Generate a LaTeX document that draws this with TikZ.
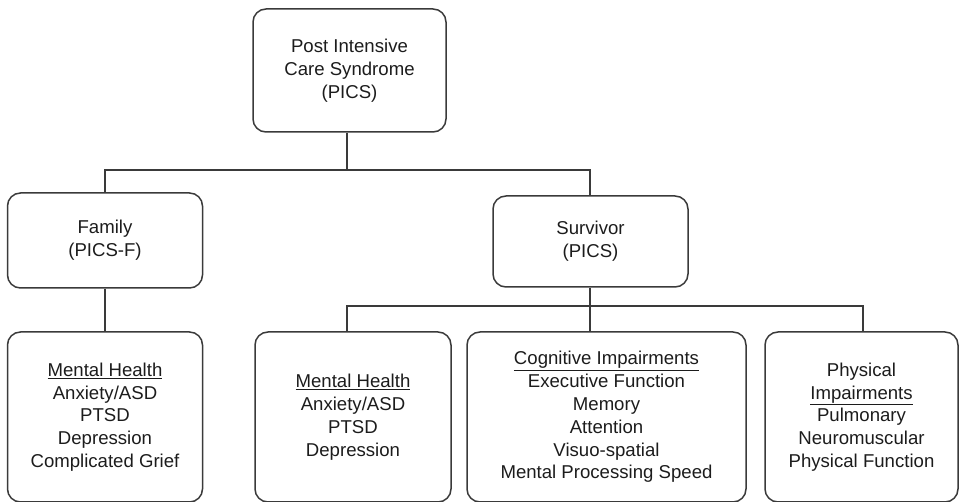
\documentclass[tikz,border=0pt]{standalone}
\usepackage{fontspec}
\setmainfont{Liberation Sans}
\definecolor{linecol}{HTML}{3A3A3A}
\definecolor{textcol}{HTML}{1C1C1C}
\begin{document}
\begin{tikzpicture}[x=1pt,y=-1pt,
  box/.style={draw=linecol, line width=1.5pt, rounded corners=13pt, align=center,
    text=textcol, font=\fontsize{18.6}{22.8}\selectfont, inner sep=0pt},
  conn/.style={draw=linecol, line width=1.5pt}]
\useasboundingbox (0,0) rectangle (959,502);
\node[box, minimum width=193pt, minimum height=123pt] (top) at (349.5,70.5)
  {Post Intensive\\Care Syndrome\\(PICS)};
\node[box, minimum width=195pt, minimum height=95pt] (fam) at (105,240.5)
  {Family\\(PICS-F)};
\node[box, minimum width=195pt, minimum height=91pt] (surv) at (590.5,241.5)
  {Survivor\\(PICS)};
\node[box, minimum width=195pt, minimum height=170pt] (fmh) at (105,417)
  {\underline{Mental Health}\\Anxiety/ASD\\PTSD\\Depression\\Complicated Grief};
\node[box, minimum width=196pt, minimum height=170pt] (smh) at (353,417)
  {\underline{Mental Health}\\Anxiety/ASD\\PTSD\\Depression};
\node[box, minimum width=279pt, minimum height=170pt] (cog) at (606.5,417)
  {\underline{Cognitive Impairments}\\Executive Function\\Memory\\Attention\\Visuo-spatial\\Mental Processing Speed};
\node[box, minimum width=193pt, minimum height=170pt] (phys) at (861.5,417)
  {Physical\\\underline{Impairments}\\Pulmonary\\Neuromuscular\\Physical Function};
% junctions
\coordinate (j1) at (347,170);
\coordinate (j2) at (590,306);
\draw[conn] (top.south -| j1) -- (j1);
\draw[conn] (fam.north) |- (j1) -| (surv.north -| j2);
\draw[conn] (fam.south) -- (fmh.north);
\draw[conn] (surv.south -| j2) -- (j2);
\draw[conn] (smh.north -| 347,0) |- (j2) -| (phys.north -| 863,0);
\draw[conn] (j2) -- (cog.north -| j2);
\end{tikzpicture}
\end{document}
